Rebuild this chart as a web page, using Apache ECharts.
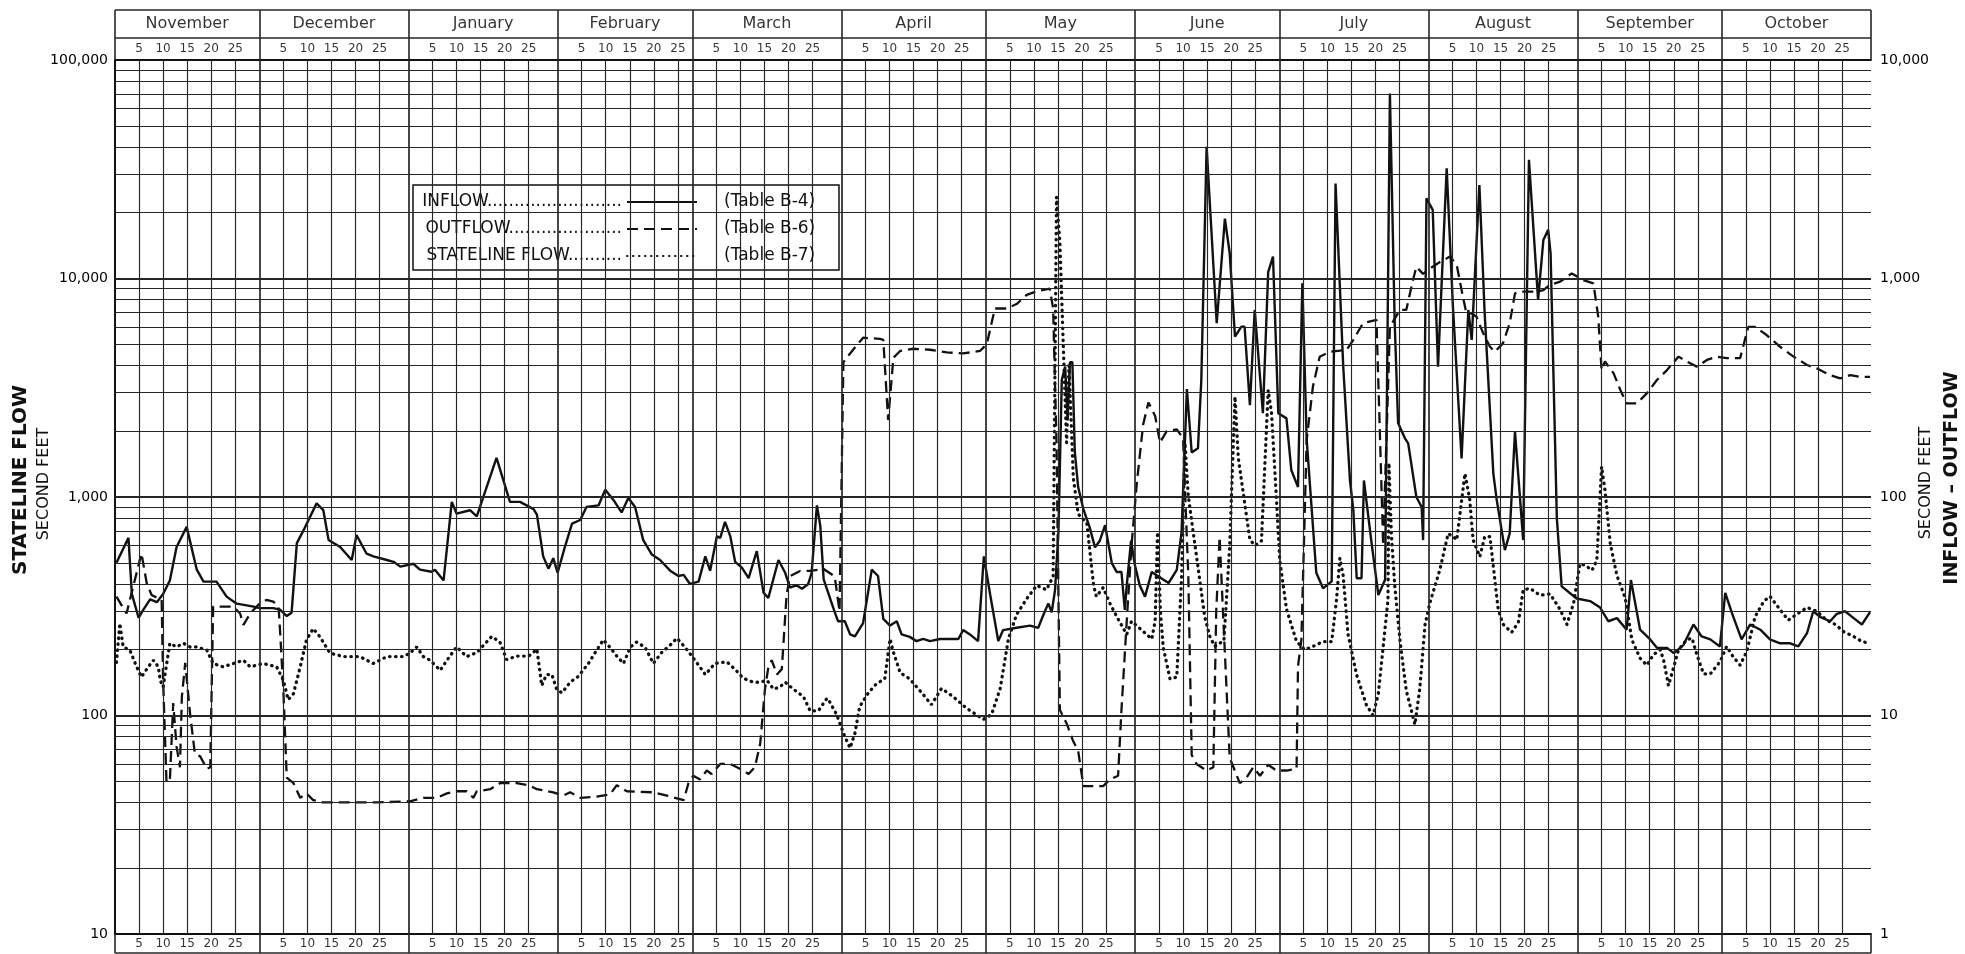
<!DOCTYPE html>
<html>
<head>
<meta charset="utf-8">
<script src="https://cdn.jsdelivr.net/npm/echarts@6.0.0/dist/echarts.min.js"></script>
<style>
html, body { margin: 0; padding: 0; background: #fff; }
#flow { width: 1965px; height: 954px; }
</style>
</head>
<body>
<div id="flow"></div>
<script>
var monthNames = ['November', 'December', 'January', 'February', 'March', 'April', 'May', 'June', 'July', 'August', 'September', 'October'];
var monthDays = [30, 31, 31, 28, 31, 30, 31, 30, 31, 31, 30, 31];
var dayMarks = [5, 10, 15, 20, 25];
var leftTicks = [10, 100, 1000, 10000, 100000];
var rightTicks = [1, 10, 100, 1000, 10000];
var legendTables = ['(Table B-4)', '(Table B-6)', '(Table B-7)'];

// [day of water year, second feet]
var inflow = [[0.3,500],[2.8,650],[3.5,360],[4.9,280],[5.9,305],[7.3,340],[8.7,330],[10,360],[11.4,415],[12.8,590],[14.9,730],[17,465],[18.4,410],[21.1,410],[23.2,350],[25.3,325],[28.8,315],[30.1,310],[32.9,310],[34.3,305],[35.7,285],[36.7,295],[37.8,615],[39.2,705],[41.9,935],[43.3,870],[44.4,635],[46.8,590],[49.2,515],[50.2,670],[52.3,550],[53.7,535],[56.5,515],[57.9,505],[59.3,480],[62,495],[63.4,465],[65.8,455],[66.5,465],[68.3,415],[70,950],[71,840],[73.8,870],[75.2,815],[79.3,1510],[82.1,950],[84.2,950],[87,880],[87.7,830],[89,535],[90.1,470],[91.1,525],[92,450],[93.5,590],[95,755],[96.7,785],[98,900],[100.5,915],[101.9,1080],[103.6,970],[105.3,850],[106.7,990],[108.1,900],[109.8,635],[111.6,545],[113.3,515],[115.4,460],[117.1,435],[118.2,440],[119.5,400],[121.3,410],[122.7,535],[123.7,460],[125.1,660],[125.8,650],[126.8,770],[127.9,660],[128.9,505],[130.3,475],[131.7,425],[133.4,565],[134.8,365],[135.8,345],[137.9,515],[139.3,450],[140.3,385],[141.7,395],[142.8,380],[144.1,400],[144.8,450],[145.9,915],[146.6,740],[147.3,420],[148.6,345],[149.6,297],[150.3,270],[151.7,270],[152.8,235],[153.8,230],[155.5,265],[157.3,465],[158.6,435],[159.7,277],[161.1,258],[162.5,270],[163.5,235],[165.2,229],[166.6,219],[168,224],[169.4,219],[171.5,224],[173.5,224],[175.3,224],[176.3,246],[177.7,235],[179.4,219],[180.6,535],[181.9,359],[183.6,219],[184.6,246],[187.4,252],[190.2,258],[191.9,252],[193,290],[194,326],[194.7,297],[195.4,376],[196.1,693],[196.8,3430],[197.5,3950],[198,2250],[198.5,4140],[199,4140],[199.5,1615],[200.2,1110],[201.3,877],[202.6,726],[203.7,588],[204.7,631],[205.8,743],[207.2,498],[208.2,454],[209.2,454],[209.9,304],[210.3,394],[211.2,631],[212,487],[213,394],[214.1,350],[215.5,454],[216.9,433],[219,404],[220.7,464],[221.7,693],[222.8,3120],[223.8,1600],[225.1,1670],[225.8,3430],[226.9,40100],[229,6240],[230.7,18800],[231.7,13050],[232.8,5420],[234.1,6010],[234.8,6010],[235.9,2630],[236.9,7180],[238.6,2420],[239.7,10700],[240.7,12600],[241.8,2420],[243.5,2290],[244.5,1330],[245.9,1110],[246.8,9500],[247.7,1830],[249.7,450],[251.1,382],[252.9,411],[253.7,27200],[255.3,3950],[256.7,1190],[257.4,870],[258.1,425],[259.1,425],[259.6,1190],[261.2,614],[262.6,356],[264,418],[265,70300],[266,6240],[266.7,2180],[268.1,1860],[268.8,1760],[270.5,1000],[271.6,900],[271.9,635],[272.6,23300],[273.9,20600],[275,3950],[276.8,31900],[278.1,7430],[279.9,1500],[281.3,7180],[282,5240],[283.6,26800],[284.7,6920],[286.5,1280],[287.2,970],[288.9,571],[289.9,682],[291,1990],[292.7,635],[293.9,34900],[295.8,7980],[296.9,15000],[297.9,16700],[298.4,13000],[299.7,800],[300.7,390],[303.8,343],[306.6,334],[308.7,312],[310.4,270],[312.2,279],[314.2,247],[315.1,417],[317,247],[319.1,223],[320.5,204],[322.6,204],[324,193],[326,210],[328.1,261],[329.8,230],[331.6,223],[333.6,207],[334.7,364],[336.1,294],[338.1,223],[339.9,261],[342,247],[344,223],[346.1,214],[348.2,214],[349.9,207],[351.7,238],[353,300],[354.4,283],[356.5,270],[357.9,292],[359.6,300],[361.4,279],[363.1,261],[364.8,297]];

var outflow = [[0.3,350],[2.4,293],[5.5,552],[6.6,403],[7.6,356],[9.7,338],[10,145],[10.7,50],[11.4,50],[12.1,114],[12.8,72],[13.5,58],[13.9,122],[14.6,174],[15.6,102],[16.6,67],[17.7,65],[19.1,57],[19.8,58],[20.4,315],[21.8,315],[24.6,315],[26,293],[26.7,260],[28.1,293],[30.1,326],[31.5,338],[32.9,332],[34,315],[34.3,246],[35,130],[35.7,52],[37.1,49],[38.5,42],[39.8,44],[41.2,41],[43.3,40],[47.5,40],[54.4,40],[61.3,40.5],[64.1,42],[66.9,42],[69,44],[71,45],[73.1,45],[74.5,42],[75.2,45],[78,46],[80,49],[83.5,49],[86,48],[87.7,46],[91.1,44.5],[93.2,43],[94.6,44.5],[96.7,42],[100.1,42.5],[102.9,43.5],[104.3,48],[106.4,45],[111.9,44.5],[114.7,43],[118.2,41],[119.2,49],[120.2,53],[121.6,51],[123,56],[124,54],[125.8,60],[127.9,60],[129.9,57],[131.7,54],[133,58],[134.1,74],[135.1,132],[135.8,166],[136.5,179],[137.6,154],[138.6,163],[139.6,358],[140.3,434],[142.4,459],[144.5,459],[147.3,468],[149.6,433],[150.6,300],[151.4,4140],[152.8,4540],[155.5,5360],[159,5290],[159.7,5240],[160.7,2250],[161.8,4340],[163.2,4660],[165.9,4770],[169.4,4720],[172.9,4590],[176.3,4540],[179.8,4660],[181.2,5000],[182.9,7290],[185.3,7290],[187.4,7640],[189.5,8410],[191.6,8730],[194.3,8990],[195,7290],[195.7,1775],[196.4,106],[197.8,92],[199.2,76],[200.2,69],[201.3,47.5],[203.3,47.5],[205.4,47.5],[206.8,51],[208.5,53],[209.2,106],[210.3,270],[211.3,602],[212.4,1160],[213.7,2140],[214.8,2710],[216.2,2350],[217.2,1775],[218.6,2000],[220.7,2040],[222,1860],[223.1,433],[223.8,66],[224.8,60],[226.9,56],[228.3,58],[228.9,300],[229.6,658],[230.3,300],[231.7,64],[233.8,49],[235.2,52],[236.6,58],[238,53],[239.7,59.5],[241.4,56],[243.5,56],[245.6,57],[245.9,168],[246.6,222],[247.7,1825],[249,3200],[250.4,4380],[252.5,4620],[256,4710],[257.4,5240],[259.4,6240],[262.2,6470],[262.8,2400],[263.6,600],[265,6010],[267.1,7180],[268.4,7180],[269.8,9840],[270.5,11300],[271.9,10500],[273.3,11100],[275.4,11900],[277.5,12600],[278.9,11500],[279.9,8850],[280.9,6920],[282,6920],[283,6680],[284.4,5610],[285.8,4870],[286.8,4620],[288.5,5050],[289.9,6240],[291,8550],[292,8700],[295.5,8700],[296.9,8850],[298.2,9330],[300.4,9670],[302.8,10550],[305.2,9840],[307.3,9500],[308.3,6690],[309,3810],[309.7,4170],[311.5,3680],[312.9,3090],[314.2,2680],[316.3,2680],[318.4,2980],[320.5,3430],[322.6,3810],[325,4390],[326.7,4170],[328.8,3950],[330.9,4240],[333,4390],[335,4320],[337.8,4320],[339.5,6010],[340.9,6010],[343.3,5510],[346.1,4870],[348.9,4390],[351.7,4020],[353.7,3880],[356.5,3610],[358.6,3490],[360.7,3610],[362.7,3550],[364.8,3550]];

var stateline = [[0.3,175],[1,264],[1.7,206],[3.1,199],[4.5,167],[5.5,150],[6.9,167],[8,179],[9,167],[9.4,145],[10,135],[11.4,214],[12.8,206],[14.2,214],[15.6,206],[17,206],[19.1,199],[20.4,173],[22.5,167],[24.6,173],[26.7,179],[28.1,167],[30.8,173],[33.6,167],[35,145],[36,118],[37.1,126],[38.5,167],[39.8,222],[41.2,250],[42.6,229],[44.7,193],[47.5,186],[50.9,186],[53.7,173],[56.5,186],[59.9,186],[61.3,193],[62.7,206],[64.1,186],[65.5,179],[67.6,161],[69,179],[71,206],[73.1,186],[75.2,194],[76.9,213],[78.3,230],[80,217],[81.4,180],[83.5,187],[86,187],[87.7,201],[88.7,137],[89.7,154],[90.8,154],[91.8,132],[92.9,127],[94.6,142],[96.3,151],[98.4,173],[99.8,194],[101.5,222],[102.9,205],[104.3,187],[105.7,173],[107.1,205],[108.4,217],[110.2,205],[111.9,173],[113.6,194],[115.4,210],[116.8,226],[118.5,205],[119.9,187],[121.3,170],[122.7,154],[124.7,173],[127.2,176],[129.2,160],[130.6,148],[132.7,142],[134.1,142],[135.5,145],[136.9,132],[138.2,135],[139.3,142],[141,132],[143.1,122],[144.5,105],[146.2,105],[148,120],[148.6,115],[150,101],[151.7,80],[152.8,71],[153.8,83],[154.8,110],[156.6,127],[158.3,140],[160,147],[161.1,224],[161.8,195],[163.2,157],[165.2,147],[167.7,127],[169.7,112],[171.8,133],[174.2,122],[177,108],[180.5,96],[182.2,101],[184,133],[185.7,224],[187.4,290],[189.5,342],[191.6,394],[193.6,376],[195,433],[195.7,23600],[196.4,14700],[197.1,5000],[197.8,1775],[198.3,4000],[199.2,1220],[200.2,836],[202,761],[203.4,394],[204,350],[205.4,385],[206.8,326],[208.2,284],[210.3,235],[211.3,270],[213.4,246],[215.5,224],[216.2,270],[216.7,690],[217.3,300],[217.9,204],[219.3,147],[220.7,150],[221.7,433],[222.4,1775],[223.1,1010],[224.1,693],[225.1,480],[226.5,283],[227.6,229],[228.6,207],[230.5,220],[231.7,600],[232.8,2880],[233.5,1500],[235.9,636],[237,600],[238.3,630],[239.7,3080],[240.4,2420],[241.4,1000],[242.1,515],[243.5,307],[245.6,218],[247.3,200],[249,207],[251.1,218],[252.9,218],[253.9,338],[254.6,525],[255.3,435],[256.3,235],[258.1,153],[260.1,112],[261.5,100],[262.6,126],[263.6,206],[264.6,338],[264.8,1430],[265.3,680],[266,395],[267.1,220],[268.4,130],[270.2,91],[271.2,132],[272.3,260],[273.3,327],[275.4,466],[277.1,680],[278.2,658],[278.9,636],[280.6,1280],[281.6,970],[282.3,636],[283.7,533],[284.7,658],[285.8,658],[286.5,480],[287.5,307],[288.5,262],[290.3,240],[291.7,267],[292.7,375],[294.1,382],[296.2,355],[298.3,360],[300.4,305],[301.8,261],[303.2,328],[304.5,495],[305.6,487],[307,462],[308,511],[309,1375],[309.7,1077],[310.8,612],[312.2,436],[313.9,346],[315.3,222],[317,183],[318.4,170],[319.8,190],[321.2,200],[321.9,179],[322.9,137],[324,167],[325,200],[326.7,222],[327.8,226],[328.8,190],[330.2,155],[331.6,155],[333.6,176],[335,207],[336.4,185],[337.8,170],[339.2,197],[340.9,283],[342.7,333],[344,351],[346.1,305],[347.8,273],[349.9,294],[351.7,312],[353.7,300],[355.8,273],[357.6,261],[359.3,242],[361.4,230],[363.1,218],[364.8,214]];

var ink = '#111';
var font = '"DejaVu Sans", "Liberation Sans", sans-serif';

// month boundaries, mid points and day marks on the day-of-year scale
var monthStart = [];
var monthMid = [];
var dayPos = [];
var acc = 0;
for (var i = 0; i < monthDays.length; i++) {
    monthStart.push(acc);
    monthMid.push(acc + monthDays[i] / 2);
    for (var k = 0; k < dayMarks.length; k++)
        dayPos.push({day: acc + dayMarks[k], text: String(dayMarks[k])});
    acc += monthDays[i];
}
var yearEnd = acc;
var bounds = monthStart.concat([yearEnd]);

// log paper ruling in the plot
var rules = [];
for (var i = 1; i < monthStart.length; i++)
    rules.push({xAxis: monthStart[i], lineStyle: {width: 1.7}});
for (var i = 0; i < dayPos.length; i++)
    rules.push({xAxis: dayPos[i].day, lineStyle: {width: 1.15}});
for (var e = 1; e <= 4; e++) {
    var base = Math.pow(10, e);
    for (var m = 2; m <= 9; m++)
        rules.push({yAxis: m * base, lineStyle: {width: 1.15}});
    if (e > 1) rules.push({yAxis: base, lineStyle: {width: 1.8}});
}

// header rows (month names over day numbers) and footer row, in 0..50 / 0..19 units
var headRules = bounds.map(function (b) { return {xAxis: b}; });
headRules.push({yAxis: 22}, {yAxis: 50});
var footRules = bounds.map(function (b) { return {xAxis: b}; });
footRules.push({yAxis: 0});

var monthLabels = monthNames.map(function (n, i) { return {name: n, value: [monthMid[i], 36]}; });
var headDayLabels = dayPos.map(function (d) { return {name: d.text, value: [d.day, 11]}; });
var footDayLabels = dayPos.map(function (d) { return {name: d.text, value: [d.day, 9.5]}; });

function withCommas(v) {
    return Math.round(v).toLocaleString('en-US');
}

function ruleSeries(name, idx, data) {
    return {
        name: name, type: 'line', data: [], xAxisIndex: idx, yAxisIndex: idx, z: 1, silent: true,
        markLine: {
            silent: true, symbol: ['none', 'none'], label: {show: false},
            lineStyle: {color: '#262626', type: 'solid', width: 1.6},
            emphasis: {disabled: true},
            data: data
        }
    };
}

function labelSeries(name, idx, data, size) {
    return {
        name: name, type: 'scatter', data: data, xAxisIndex: idx, yAxisIndex: idx,
        symbolSize: 1, itemStyle: {color: 'rgba(0,0,0,0)'}, silent: true, z: 5,
        label: {show: true, position: 'inside', formatter: '{b}', color: '#000', fontFamily: font, fontSize: size}
    };
}

function hiddenX(idx) {
    return {type: 'value', gridIndex: idx, min: 0, max: yearEnd, show: false};
}

function sideText(x, y, text, style) {
    return {type: 'text', x: x, y: y, rotation: Math.PI / 2,
        style: {text: text, font: style + ' ' + font, fill: ink, align: 'center', verticalAlign: 'middle'}};
}

function tableText(y, text) {
    return {type: 'text', x: 724, y: y, z: 100,
        style: {text: text, font: '17px ' + font, fill: ink, align: 'left', verticalAlign: 'middle'}};
}

var chart = echarts.init(document.getElementById('flow'));

var option = {
    animation: false,
    backgroundColor: '#fff',
    grid: [
        {left: 115, right: 94, top: 60, bottom: 20},
        {left: 115, right: 94, top: 10, height: 50},
        {left: 115, right: 94, top: 934, height: 19}
    ],
    legend: {
        data: ['INFLOW', 'OUTFLOW', 'STATELINE FLOW'],
        orient: 'vertical',
        left: 413,
        top: 185,
        align: 'right',
        itemWidth: 70,
        itemHeight: 14,
        itemGap: 9,
        padding: [8, 141, 5, 8],
        backgroundColor: '#fff',
        borderColor: ink,
        borderWidth: 1.5,
        borderRadius: 0,
        selectedMode: false,
        itemStyle: {color: 'rgba(0,0,0,0)', borderWidth: 0},
        formatter: function (name) {
            return name + '.'.repeat(90);
        },
        textStyle: {
            fontFamily: font, fontSize: 17, color: ink, lineHeight: 18,
            width: 201, overflow: 'truncate', ellipsis: ''
        }
    },
    graphic: [
        tableText(202, legendTables[0]),
        tableText(229, legendTables[1]),
        tableText(256, legendTables[2]),
        sideText(21, 480, 'STATELINE FLOW', 'bold 20px'),
        sideText(44, 484, 'SECOND FEET', '16px'),
        sideText(1926, 483, 'SECOND FEET', '16px'),
        sideText(1952, 478, 'INFLOW \u2013 OUTFLOW', 'bold 19px')
    ],
    xAxis: [
        {
            type: 'value', gridIndex: 0, min: 0, max: yearEnd, position: 'bottom',
            axisLine: {show: true, lineStyle: {color: ink, width: 1.8}},
            axisTick: {show: false}, axisLabel: {show: false}, splitLine: {show: false}
        },
        hiddenX(1),
        hiddenX(2),
        {
            type: 'value', gridIndex: 0, min: 0, max: yearEnd, position: 'top',
            axisLine: {show: true, lineStyle: {color: ink, width: 1.8}},
            axisTick: {show: false}, axisLabel: {show: false}, splitLine: {show: false}
        }
    ],
    yAxis: [
        {
            type: 'log', logBase: 10, gridIndex: 0, min: leftTicks[0], max: leftTicks[leftTicks.length - 1],
            position: 'left',
            axisLine: {show: true, lineStyle: {color: ink, width: 1.8}},
            axisTick: {show: false},
            axisLabel: {margin: 7, color: '#000', fontFamily: font, fontSize: 14, formatter: withCommas},
            splitLine: {show: false}
        },
        {type: 'value', gridIndex: 1, min: 0, max: 50, show: false},
        {type: 'value', gridIndex: 2, min: 0, max: 19, show: false},
        {
            type: 'log', logBase: 10, gridIndex: 0, min: rightTicks[0], max: rightTicks[rightTicks.length - 1],
            position: 'right',
            axisLine: {show: true, lineStyle: {color: ink, width: 1.8}},
            axisTick: {show: false},
            axisLabel: {margin: 9, color: '#000', fontFamily: font, fontSize: 14, formatter: withCommas},
            splitLine: {show: false}
        }
    ],
    series: [
        ruleSeries('ruling', 0, rules),
        ruleSeries('headRuling', 1, headRules),
        ruleSeries('footRuling', 2, footRules),
        labelSeries('months', 1, monthLabels, 16),
        labelSeries('headDays', 1, headDayLabels, 12),
        labelSeries('footDays', 2, footDayLabels, 12),
        {
            name: 'INFLOW', type: 'line', data: inflow, z: 3, symbol: 'none',
            lineStyle: {color: ink, width: 2.4, type: 'solid'}, itemStyle: {color: ink}
        },
        {
            name: 'OUTFLOW', type: 'line', data: outflow, z: 3, symbol: 'none',
            lineStyle: {color: ink, width: 2.3, type: [11, 6]}, itemStyle: {color: ink}
        },
        {
            name: 'STATELINE FLOW', type: 'line', data: stateline, z: 3, symbol: 'none',
            lineStyle: {color: ink, width: 3.3, type: [0.5, 5.5], cap: 'round'}, itemStyle: {color: ink}
        }
    ]
};

chart.setOption(option);
</script>
</body>
</html>
